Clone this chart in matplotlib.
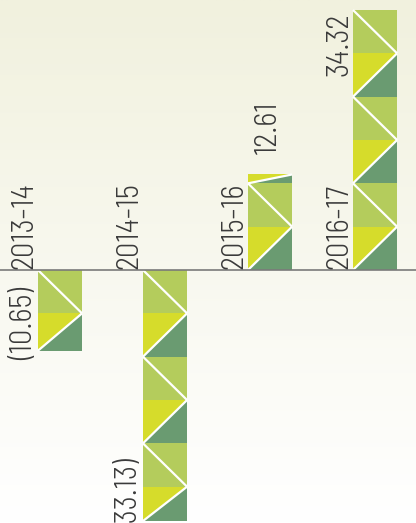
import numpy as np
import matplotlib
matplotlib.use("Agg")
import matplotlib.pyplot as plt
from matplotlib.patches import Polygon, Rectangle

# ---- data ----
categories = ["2013-14", "2014-15", "2015-16", "2016-17"]
values = [-10.65, -33.13, 12.61, 34.32]
value_labels = ["(10.65)", "(33.13)", "12.61", "34.32"]

# ---- style ----
LIGHT = "#B4CC5C"
YELLOW = "#D6DC2B"
DARK = "#6A9B71"
TEXT = "#3a3a3a"
BLOCK = 5.72          # data units per pattern block
BAR_W = 0.42
FONT = ["Barlow Semi Condensed", "DejaVu Sans"]
WEIGHT = 300

W, H = 416, 523
fig = plt.figure(figsize=(W / 100, H / 100), dpi=100)
ax = fig.add_axes([0, 0, 1, 1])
ax.set_xlim(-0.5714, 3.390)
ax.set_ylim(-33.39, 35.64)
ax.axis("off")

# background gradient (top cream -> bottom white)
grad = np.linspace(0, 1, 256).reshape(-1, 1)
top = np.array([241, 241, 222]) / 255
bot = np.array([255, 255, 255]) / 255
img = top[None, None, :] * (1 - grad[..., None]) + bot[None, None, :] * grad[..., None]
ax.imshow(img, extent=[*ax.get_xlim(), *ax.get_ylim()], aspect="auto", zorder=0,
          origin="upper")

pxy = (ax.get_ylim()[1] - ax.get_ylim()[0]) / H   # data units per pixel (y)
pxx = (ax.get_xlim()[1] - ax.get_xlim()[0]) / W   # data units per pixel (x)


def draw_bar(xc, v):
    x0, x1 = xc - BAR_W / 2, xc + BAR_W / 2
    lo, hi = min(0, v), max(0, v)
    kmin = int(np.floor(lo / BLOCK))
    kmax = int(np.ceil(hi / BLOCK))
    for k in range(kmin, kmax):
        y0 = max(k * BLOCK, lo)
        y1 = min((k + 1) * BLOCK, hi)
        if y1 - y0 <= 1e-9:
            continue
        if k % 2 == 0:
            ax.add_patch(Polygon([(x0, y0), (x0, y1), (x1, y1)], closed=True,
                                 facecolor=YELLOW, edgecolor="none", zorder=2))
            ax.add_patch(Polygon([(x0, y0), (x1, y0), (x1, y1)], closed=True,
                                 facecolor=DARK, edgecolor="none", zorder=2))
            ax.plot([x0, x1], [y0, y1], color="white", lw=1.6, zorder=3,
                    solid_capstyle="butt")
        else:
            ax.add_patch(Rectangle((x0, y0), x1 - x0, y1 - y0,
                                   facecolor=LIGHT, edgecolor="none", zorder=2))
            ax.plot([x0, x1], [y1, y0], color="white", lw=1.6, zorder=3,
                    solid_capstyle="butt")


xs = np.arange(len(categories))
for x, v in zip(xs, values):
    draw_bar(x, v)

ax.axhline(0, color="#7a7a7a", lw=1.2, zorder=4)

fs = 22
lab_dx = -36 * pxx
kw = dict(rotation=90, fontsize=fs, color=TEXT, family=FONT, weight=WEIGHT, zorder=5)
for x, cat, v, lab in zip(xs, categories, values, value_labels):
    ax.text(x + lab_dx, 1 * pxy, cat, ha="center", va="bottom", **kw)
    if v < 0:
        ax.text(x + lab_dx, v - 1.2, lab, ha="center", va="bottom", **kw)
    elif v > 30:
        ax.text(x + lab_dx, v - 3 * pxy, lab, ha="center", va="top", **kw)
    else:
        ax.text(x - 2 * pxx, v + 20 * pxy, lab, ha="center", va="bottom", **kw)

fig.savefig("out.png", dpi=100)
